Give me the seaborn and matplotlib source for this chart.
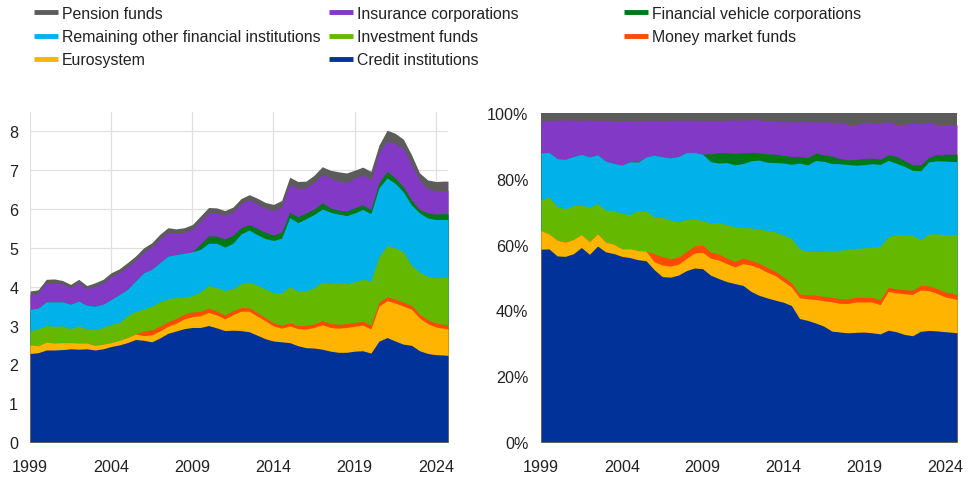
import numpy as np
import matplotlib
matplotlib.use("Agg")
import matplotlib.pyplot as plt
import seaborn as sns
from matplotlib.lines import Line2D

# ---------------- data (EUR trillions, semi-annual readings) ----------------
dates = [1999.0, 1999.5, 2000.0, 2000.5, 2001.0, 2001.5, 2002.0, 2002.5, 2003.0, 2003.5,
         2004.0, 2004.5, 2005.0, 2005.5, 2006.0, 2006.5, 2007.0, 2007.5, 2008.0, 2008.5,
         2009.0, 2009.5, 2010.0, 2010.5, 2011.0, 2011.5, 2012.0, 2012.5, 2013.0, 2013.5,
         2014.0, 2014.5, 2015.0, 2015.5, 2016.0, 2016.5, 2017.0, 2017.5, 2018.0, 2018.5,
         2019.0, 2019.5, 2020.0, 2020.5, 2021.0, 2021.5, 2022.0, 2022.5, 2023.0, 2023.5,
         2024.0, 2024.5, 2024.75]

credit = [2.28, 2.30, 2.37, 2.37, 2.38, 2.40, 2.39, 2.40, 2.37, 2.40,
          2.46, 2.50, 2.56, 2.64, 2.62, 2.58, 2.68, 2.80, 2.86, 2.92,
          2.95, 2.95, 3.00, 2.94, 2.87, 2.88, 2.87, 2.84, 2.75, 2.66,
          2.60, 2.58, 2.56, 2.48, 2.43, 2.42, 2.39, 2.34, 2.31, 2.31,
          2.34, 2.35, 2.29, 2.60, 2.69, 2.60, 2.52, 2.49, 2.35, 2.28,
          2.25, 2.24, 2.23]
eurosystem = [0.22, 0.18, 0.20, 0.18, 0.18, 0.16, 0.16, 0.15, 0.12, 0.12,
              0.10, 0.12, 0.13, 0.14, 0.12, 0.18, 0.18, 0.18, 0.20, 0.25,
              0.28, 0.30, 0.34, 0.33, 0.30, 0.40, 0.50, 0.53, 0.49, 0.46,
              0.39, 0.35, 0.43, 0.44, 0.48, 0.53, 0.63, 0.61, 0.62, 0.64,
              0.64, 0.66, 0.62, 0.90, 0.95, 0.98, 0.98, 0.93, 0.84, 0.77,
              0.71, 0.69, 0.68]
mmf = [0.00, 0.00, 0.00, 0.00, 0.00, 0.00, 0.00, 0.00, 0.00, 0.00,
       0.00, 0.00, 0.00, 0.00, 0.12, 0.13, 0.12, 0.12, 0.12, 0.12,
       0.12, 0.11, 0.11, 0.10, 0.10, 0.10, 0.09, 0.09, 0.09, 0.08,
       0.08, 0.08, 0.08, 0.08, 0.09, 0.09, 0.10, 0.10, 0.10, 0.10,
       0.10, 0.10, 0.10, 0.10, 0.10, 0.10, 0.10, 0.10, 0.10, 0.10,
       0.10, 0.10, 0.10]
invest = [0.36, 0.44, 0.43, 0.43, 0.43, 0.36, 0.44, 0.37, 0.40, 0.43,
          0.47, 0.46, 0.56, 0.59, 0.56, 0.61, 0.63, 0.59, 0.54, 0.45,
          0.42, 0.51, 0.58, 0.61, 0.63, 0.57, 0.62, 0.66, 0.71, 0.74,
          0.78, 0.84, 0.93, 0.89, 0.89, 0.94, 1.00, 1.03, 1.05, 1.03,
          1.05, 1.08, 1.14, 1.18, 1.32, 1.32, 1.30, 1.03, 1.09, 1.12,
          1.17, 1.21, 1.23]
rofi = [0.56, 0.53, 0.61, 0.63, 0.62, 0.63, 0.64, 0.60, 0.61, 0.60,
        0.64, 0.72, 0.68, 0.78, 0.94, 0.95, 1.01, 1.10, 1.11, 1.12,
        1.13, 1.09, 1.09, 1.14, 1.12, 1.17, 1.28, 1.34, 1.30, 1.30,
        1.34, 1.40, 1.78, 1.76, 1.86, 1.88, 1.88, 1.84, 1.79, 1.75,
        1.77, 1.80, 1.73, 1.77, 1.74, 1.66, 1.54, 1.55, 1.52, 1.50,
        1.50, 1.49, 1.49]
fvc = [0.00, 0.00, 0.00, 0.00, 0.00, 0.00, 0.00, 0.00, 0.00, 0.00,
       0.00, 0.00, 0.00, 0.00, 0.00, 0.00, 0.00, 0.00, 0.00, 0.00,
       0.00, 0.14, 0.19, 0.18, 0.21, 0.20, 0.16, 0.14, 0.16, 0.16,
       0.14, 0.15, 0.14, 0.15, 0.15, 0.14, 0.16, 0.11, 0.10, 0.12,
       0.13, 0.12, 0.11, 0.13, 0.17, 0.14, 0.13, 0.13, 0.09, 0.13,
       0.14, 0.15, 0.15]
insurance = [0.38, 0.38, 0.49, 0.50, 0.46, 0.42, 0.47, 0.42, 0.51, 0.54,
             0.59, 0.56, 0.58, 0.53, 0.53, 0.56, 0.61, 0.61, 0.54, 0.54,
             0.57, 0.59, 0.59, 0.60, 0.60, 0.60, 0.62, 0.64, 0.63, 0.62,
             0.63, 0.65, 0.72, 0.73, 0.64, 0.68, 0.73, 0.77, 0.75, 0.73,
             0.77, 0.77, 0.77, 0.77, 0.78, 0.88, 0.99, 0.92, 0.75, 0.62,
             0.60, 0.60, 0.60]
pension = [0.09, 0.09, 0.09, 0.09, 0.09, 0.09, 0.09, 0.09, 0.09, 0.10,
           0.10, 0.10, 0.11, 0.11, 0.11, 0.12, 0.12, 0.12, 0.12, 0.12,
           0.13, 0.13, 0.14, 0.13, 0.13, 0.13, 0.13, 0.13, 0.15, 0.15,
           0.16, 0.17, 0.18, 0.18, 0.18, 0.19, 0.20, 0.20, 0.24, 0.25,
           0.20, 0.20, 0.21, 0.20, 0.28, 0.27, 0.24, 0.25, 0.19, 0.23,
           0.24, 0.24, 0.24]

labels = ["Credit institutions", "Eurosystem", "Money market funds", "Investment funds",
          "Remaining other financial institutions", "Financial vehicle corporations",
          "Insurance corporations", "Pension funds"]
colors = ["#003299", "#ffb400", "#ff4b00", "#65b800",
          "#00b1ea", "#007816", "#8139c6", "#5c5c5c"]
x_ticks = [1999, 2004, 2009, 2014, 2019, 2024]

# ---------------- style ----------------
sns.set_theme(style="white")
plt.rcParams["font.family"] = ["Liberation Sans", "DejaVu Sans"]
TXT = "#222222"

series = [credit, eurosystem, mmf, invest, rofi, fvc, insurance, pension]
vals = np.array(series, dtype=float)
cum = np.cumsum(vals, axis=0)
total = cum[-1]
shares = cum / total * 100.0
t = np.array(dates)

fig = plt.figure(figsize=(9.76, 4.81), dpi=100)
ax1 = fig.add_axes([30 / 976, 1 - 443 / 481, 418 / 976, 330 / 481])
ax2 = fig.add_axes([541 / 976, 1 - 443 / 481, 416 / 976, 329 / 481])


def draw(ax, c):
    # draw from top layer down so stacked fills overlap without seams
    for k in range(len(series) - 1, -1, -1):
        ax.fill_between(t, 0, c[k], color=colors[k], lw=0, zorder=2)


draw(ax1, cum)
draw(ax2, shares)

for ax in (ax1, ax2):
    ax.set_xlim(1999, 2024.75)
    ax.set_xticks(x_ticks)
    ax.set_xticklabels([str(v) for v in x_ticks])
    ax.tick_params(axis="both", length=0, labelsize=11.6, colors=TXT)
    ax.tick_params(axis="x", pad=12.5)
    sns.despine(ax=ax, left=True, bottom=True, top=True, right=True)

ax1.set_ylim(0, 8.5)
ax1.set_yticks(range(0, 9))
ax1.tick_params(axis="y", pad=8.5)
ax1.grid(True, color="#e0e0e0", lw=0.9, zorder=0)
ax1.set_axisbelow(True)

ax2.set_ylim(0, 100)
ax2.set_yticks([0, 20, 40, 60, 80, 100])
ax2.set_yticklabels([f"{v}%" for v in [0, 20, 40, 60, 80, 100]])
ax2.tick_params(axis="y", pad=9)
ax2.grid(False)

# ---------------- legend (three fixed columns) ----------------
col_items = [[7, 4, 1], [6, 3, 0], [5, 2]]
col_x = [34, 329, 624]
for items, xpx in zip(col_items, col_x):
    handles = [Line2D([], [], color=colors[i], lw=3.5, solid_capstyle="butt") for i in items]
    fig.legend(handles, [labels[i] for i in items], loc="upper left",
               bbox_to_anchor=(xpx / 976, 1 - 7 / 481), frameon=False,
               fontsize=11.4, handlelength=1.5, handletextpad=0.25,
               labelspacing=0.52, borderpad=0, borderaxespad=0,
               labelcolor=TXT)

fig.savefig("out.png", dpi=100)
